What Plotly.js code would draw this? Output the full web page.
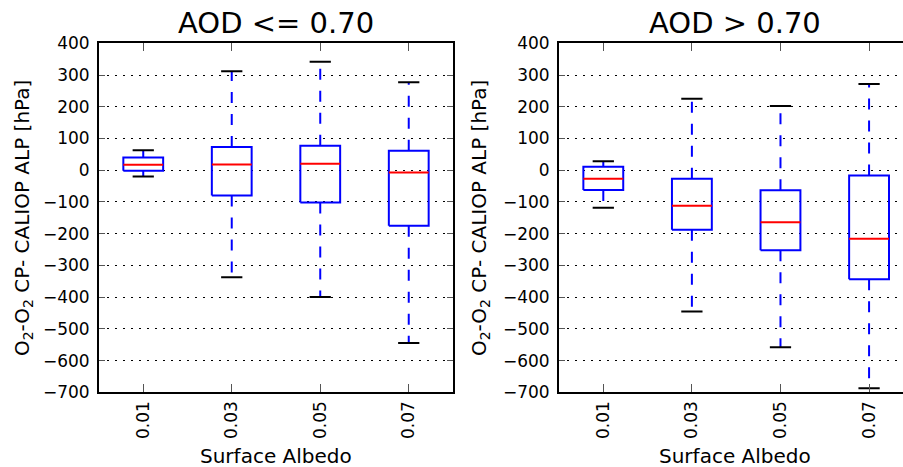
<!DOCTYPE html>
<html>
<head>
<meta charset="utf-8">
<script src="https://cdn.plot.ly/plotly-3.0.1.min.js"></script>
<style>html,body{margin:0;padding:0;background:#fff;}#chart{width:903px;height:467px;}</style>
</head>
<body>
<div id="chart"></div>
<script>
// Data
const categories = ['0.01', '0.03', '0.05', '0.07'];
const panelTitles = ['AOD <= 0.70', 'AOD > 0.70'];
// Left panel: AOD <= 0.70
const lowAOD_whiskerLow  = [-20, -337, -400, -545];
const lowAOD_q1          = [-2, -80, -102, -175];
const lowAOD_median      = [17, 18, 20, -7];
const lowAOD_q3          = [40, 73, 77, 61];
const lowAOD_whiskerHigh = [63, 312, 342, 277];
// Right panel: AOD > 0.70
const highAOD_whiskerLow  = [-118, -445, -558, -687];
const highAOD_q1          = [-62, -188, -252, -344];
const highAOD_median      = [-27, -112, -164, -216];
const highAOD_q3          = [11, -27, -63, -17];
const highAOD_whiskerHigh = [28, 225, 202, 272];
const yTickVals = [400, 300, 200, 100, 0, -100, -200, -300, -400, -500, -600, -700];

const panels = [
  {lo: lowAOD_whiskerLow, q1: lowAOD_q1, med: lowAOD_median, q3: lowAOD_q3, hi: lowAOD_whiskerHigh, xa: 'x', ya: 'y'},
  {lo: highAOD_whiskerLow, q1: highAOD_q1, med: highAOD_median, q3: highAOD_q3, hi: highAOD_whiskerHigh, xa: 'x2', ya: 'y2'}
];

const BOXW = 0.45, CAPW = 0.24;
const traces = [];
panels.forEach(p => {
  categories.forEach((c, i) => {
    const pos = i + 1;
    const common = {xaxis: p.xa, yaxis: p.ya, mode: 'lines', showlegend: false, hoverinfo: 'skip'};
    // whiskers
    traces.push(Object.assign({}, common, {x: [pos, pos], y: [p.q3[i], p.hi[i]], line: {color: '#0000ff', width: 2, dash: '11px,11px'}}));
    traces.push(Object.assign({}, common, {x: [pos, pos], y: [p.q1[i], p.lo[i]], line: {color: '#0000ff', width: 2, dash: '11px,11px'}}));
    // caps
    traces.push(Object.assign({}, common, {x: [pos - CAPW/2, pos + CAPW/2], y: [p.hi[i], p.hi[i]], line: {color: '#000000', width: 2}}));
    traces.push(Object.assign({}, common, {x: [pos - CAPW/2, pos + CAPW/2], y: [p.lo[i], p.lo[i]], line: {color: '#000000', width: 2}}));
    // box
    traces.push(Object.assign({}, common, {
      x: [pos - BOXW/2, pos + BOXW/2, pos + BOXW/2, pos - BOXW/2, pos - BOXW/2],
      y: [p.q1[i], p.q1[i], p.q3[i], p.q3[i], p.q1[i]],
      line: {color: '#0000ff', width: 2}
    }));
    // median
    traces.push(Object.assign({}, common, {x: [pos - BOXW/2, pos + BOXW/2], y: [p.med[i], p.med[i]], line: {color: '#ff0000', width: 2}}));
  });
});

const font = 'DejaVu Sans, sans-serif';
const tickvalsX = categories.map((c, i) => i + 1);
function xax(domain, range, mirror) {
  return {
    domain: domain, range: range, tickvals: tickvalsX, ticktext: categories, tickangle: -90,
    ticks: 'inside', ticklen: 8, tickwidth: 1, tickcolor: '#555',
    showline: true, linecolor: '#000', linewidth: 2, mirror: mirror,
    showgrid: false, zeroline: false,
    tickfont: {family: font, size: 17, color: '#000'}, fixedrange: true
  };
}
function yax(domain, anchor, mirror) {
  return {
    domain: domain, anchor: anchor, range: [-700, 400], tickvals: yTickVals,
    ticks: 'inside', ticklen: 6, tickwidth: 1, tickcolor: '#555',
    showline: true, linecolor: '#000', linewidth: 2, mirror: mirror,
    showgrid: true, gridcolor: '#000', gridwidth: 1, griddash: '2px,6px', zeroline: false,
    tickfont: {family: font, size: 17, color: '#000'}, ticklabelstandoff: 4, fixedrange: true
  };
}
const yDom = [0.15996, 0.90728];
const ann = (text, x, y, size, angle) => ({text: text, x: x, y: y, xref: 'paper', yref: 'paper', showarrow: false,
  xanchor: 'center', yanchor: 'middle', textangle: angle || 0, font: {family: font, size: size, color: '#000'}});

const layout = {
  width: 903, height: 467,
  margin: {l: 0, r: 0, t: 0, b: 0},
  paper_bgcolor: '#fff', plot_bgcolor: '#fff',
  xaxis: Object.assign(xax([0.10963, 0.50166], [0.5, 4.5], 'ticks'), {anchor: 'y'}),
  yaxis: yax(yDom, 'x', 'ticks'),
  xaxis2: Object.assign(xax([0.61905, 1.0], [0.5, 4.383], 'ticks'), {anchor: 'y2'}),
  yaxis2: yax(yDom, 'x2', false),
  annotations: [
    ann(panelTitles[0], 0.3056, 0.951, 29),
    ann(panelTitles[1], 0.814, 0.951, 29),
    ann('Surface Albedo', 0.3056, 0.0236, 20),
    ann('Surface Albedo', 0.814, 0.0236, 20),
    ann('O<sub>2</sub>-O<sub>2</sub> CP- CALIOP ALP [hPa]', 0.0255, 0.533, 20, -90),
    ann('O<sub>2</sub>-O<sub>2</sub> CP- CALIOP ALP [hPa]', 0.5316, 0.533, 20, -90)
  ]
};

Plotly.newPlot('chart', traces, layout, {staticPlot: true, displayModeBar: false});
</script>
</body>
</html>
